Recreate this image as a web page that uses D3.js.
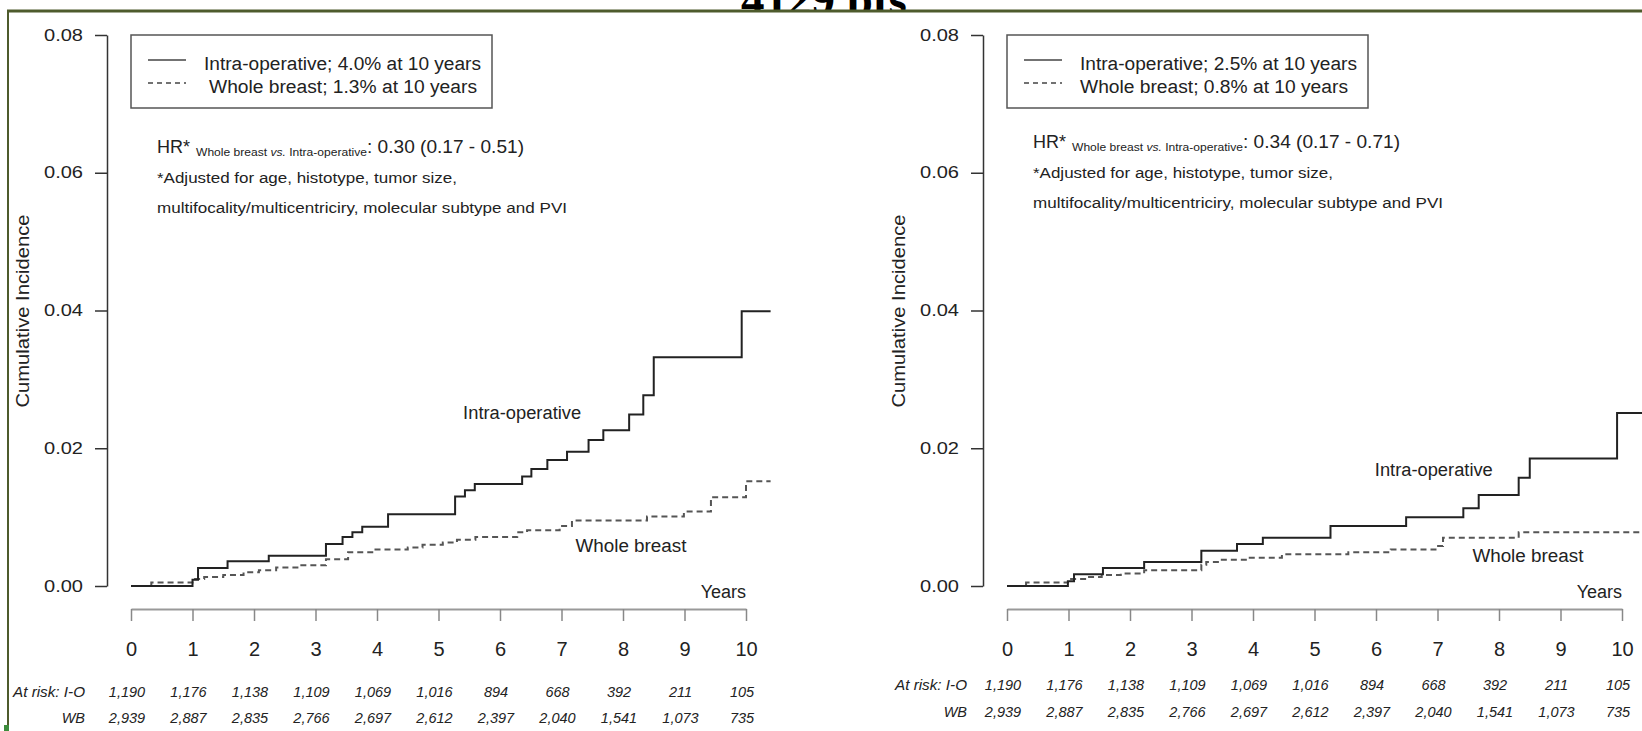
<!DOCTYPE html>
<html>
<head>
<meta charset="utf-8">
<script src="https://cdn.jsdelivr.net/npm/d3@7"></script>
<style>
  body { margin: 0; background: #fff; }
  svg { display: block; }
  text { font-family: 'Liberation Sans Narrow', 'Liberation Sans', Arial, sans-serif; fill: #222; }
</style>
</head>
<body>
<script>
// valeurs
const years = [0, 1, 2, 3, 4, 5, 6, 7, 8, 9, 10]
const yTicks = [0, 0.02, 0.04, 0.06, 0.08]
const atRiskIO = [1190, 1176, 1138, 1109, 1069, 1016, 894, 668, 392, 211, 105]
const atRiskWB = [2939, 2887, 2835, 2766, 2697, 2612, 2397, 2040, 1541, 1073, 735]

// panneau gauche
const ioTimesL = [0, 1.0, 1.09, 1.57, 2.24, 3.17, 3.44, 3.6, 3.76, 4.18, 5.27, 5.43, 5.59, 6.36, 6.51, 6.77, 7.09, 7.44, 7.68, 8.1, 8.33, 8.5, 9.93]
const ioValuesL = [0, 0.0009, 0.0026, 0.0036, 0.0044, 0.0061, 0.0071, 0.0078, 0.0086, 0.0104, 0.0130, 0.0139, 0.0148, 0.0159, 0.0170, 0.0183, 0.0195, 0.0212, 0.0226, 0.0249, 0.0277, 0.0332, 0.0399]
const wbTimesL = [0, 0.33, 1.0, 1.19, 1.5, 1.83, 2.08, 2.36, 2.73, 3.17, 3.53, 3.94, 4.5, 4.74, 5.07, 5.3, 5.6, 6.28, 6.44, 6.97, 7.17, 8.39, 8.99, 9.43, 10.0]
const wbValuesL = [0, 0.0005, 0.0010, 0.0013, 0.0016, 0.0020, 0.0023, 0.0027, 0.0030, 0.0039, 0.0049, 0.0053, 0.0056, 0.0060, 0.0063, 0.0067, 0.0071, 0.0078, 0.0081, 0.0087, 0.0095, 0.0101, 0.0108, 0.0129, 0.0152]
const legendL = ["Intra-operative; 4.0% at 10 years", "Whole breast; 1.3% at 10 years"]
const hrL = ": 0.30 (0.17 - 0.51)"

// panneau droit
const ioTimesR = [0, 0.99, 1.09, 1.56, 2.23, 3.16, 3.74, 4.16, 5.26, 6.49, 7.42, 7.67, 8.32, 8.5, 9.92]
const ioValuesR = [0, 0.0007, 0.0017, 0.0026, 0.0035, 0.0051, 0.0061, 0.0070, 0.0087, 0.0100, 0.0113, 0.0132, 0.0157, 0.0185, 0.0251]
const wbTimesR = [0, 0.31, 0.99, 1.31, 1.54, 1.85, 2.23, 3.16, 3.24, 3.47, 3.93, 4.47, 5.55, 6.24, 7.01, 7.09, 8.32]
const wbValuesR = [0, 0.0005, 0.0010, 0.0013, 0.0016, 0.0018, 0.0023, 0.0031, 0.0035, 0.0038, 0.0041, 0.0046, 0.0049, 0.0053, 0.0058, 0.0070, 0.0078]
const legendR = ["Intra-operative; 2.5% at 10 years", "Whole breast; 0.8% at 10 years"]
const hrR = " : 0.34 (0.17 - 0.71)"

const adjustedLines = ["*Adjusted for age, histotype, tumor size,", "multifocality/multicentriciry, molecular subtype and PVI"]

const width = 1642
const height = 731

const svg = d3.select("body").append("svg")
  .attr("width", width)
  .attr("height", height)

svg.append("rect").attr("width", width).attr("height", height).attr("fill", "#fff")

// titre coupé en haut de l'image
svg.append("clipPath").attr("id", "topclip")
  .append("rect").attr("x", 0).attr("y", 0).attr("width", width).attr("height", 10.5)
svg.append("text")
  .attr("clip-path", "url(#topclip)")
  .attr("x", 824).attr("y", 15)
  .attr("text-anchor", "middle")
  .style("font-family", "'Liberation Serif', 'Times New Roman', serif")
  .style("font-weight", "bold")
  .style("font-size", "47px")
  .style("fill", "#000")
  .text("4129 pts")

// cadre vert
svg.append("line").attr("x1", 7).attr("x2", width).attr("y1", 11).attr("y2", 11)
  .attr("stroke", "#4e5b2c").attr("stroke-width", 3)
svg.append("line").attr("x1", 8).attr("x2", 8).attr("y1", 10).attr("y2", height)
  .attr("stroke", "#4e5b2c").attr("stroke-width", 2)
svg.append("rect").attr("x", 4).attr("y", 725).attr("width", 5).attr("height", 6).attr("fill", "#3c8c3c")

function drawPanel(p) {
  const ox = p.ox
  const x = d3.scaleLinear().domain([0, 10]).range([ox + 24, ox + 639])
  const y = d3.scaleLinear().domain([0, 0.08]).range([586, 35])
  const g = svg.append("g")

  // axe y
  const ay = g.append("g")
    .attr("transform", `translate(${ox},0)`)
    .call(d3.axisLeft(y).tickValues(yTicks).tickFormat(d3.format(".2f")).tickSize(12).tickSizeOuter(0).tickPadding(12))
  ay.select(".domain").attr("stroke", "#333").attr("stroke-width", 1.5)
  ay.selectAll(".tick line").attr("stroke", "#333").attr("stroke-width", 1.5)
  ay.selectAll(".tick text")
    .style("font-family", "'Liberation Sans', Arial, sans-serif")
    .style("font-size", "16px")
    .attr("textLength", 39).attr("lengthAdjust", "spacingAndGlyphs")

  // axe x
  const ax = g.append("g")
    .attr("transform", "translate(0,609)")
    .call(d3.axisBottom(x).tickValues(years).tickSize(12).tickSizeOuter(0).tickPadding(21))
  ax.select(".domain").attr("stroke", "#999").attr("stroke-width", 2)
  ax.selectAll(".tick line").attr("stroke", "#888").attr("stroke-width", 1.5)
  ax.selectAll(".tick text")
    .style("font-family", "'Liberation Sans', Arial, sans-serif")
    .style("font-size", "20px")

  g.append("text")
    .attr("x", ox + 639).attr("y", 598)
    .attr("text-anchor", "end")
    .style("font-size", "18px")
    .text("Years")

  // titre de l'axe y
  g.append("text")
    .attr("transform", `translate(${ox - 78},311) rotate(-90)`)
    .attr("text-anchor", "middle")
    .style("font-family", "'Liberation Sans', Arial, sans-serif")
    .style("font-size", "18px")
    .attr("textLength", 193).attr("lengthAdjust", "spacingAndGlyphs")
    .text("Cumulative Incidence")

  // courbes en escalier
  const line = d3.line()
    .x(d => x(d[0]))
    .y(d => y(d[1]))
    .curve(d3.curveStepAfter)

  const ioPts = p.ioTimes.map((t, i) => [t, p.ioValues[i]])
  ioPts.push([p.endYear, p.ioValues[p.ioValues.length - 1]])
  const wbPts = p.wbTimes.map((t, i) => [t, p.wbValues[i]])
  wbPts.push([p.endYear, p.wbValues[p.wbValues.length - 1]])

  g.append("path").datum(wbPts)
    .attr("d", line)
    .attr("fill", "none")
    .attr("stroke", "#555")
    .attr("stroke-width", 2)
    .attr("stroke-dasharray", "6,4")
  g.append("path").datum(ioPts)
    .attr("d", line)
    .attr("fill", "none")
    .attr("stroke", "#222")
    .attr("stroke-width", 2)

  g.append("text")
    .attr("x", x(p.ioLabel[0])).attr("y", y(p.ioLabel[1]))
    .attr("text-anchor", "middle")
    .style("font-size", "18px")
    .attr("textLength", 118).attr("lengthAdjust", "spacingAndGlyphs")
    .text("Intra-operative")
  g.append("text")
    .attr("x", x(p.wbLabel[0])).attr("y", y(p.wbLabel[1]))
    .attr("text-anchor", "middle")
    .style("font-size", "18px")
    .attr("textLength", 111).attr("lengthAdjust", "spacingAndGlyphs")
    .text("Whole breast")

  // légende
  g.append("rect")
    .attr("x", ox + 24).attr("y", 35)
    .attr("width", 361).attr("height", 73)
    .attr("fill", "none").attr("stroke", "#555").attr("stroke-width", 1.5)
  g.append("line").attr("x1", ox + 41).attr("x2", ox + 79).attr("y1", 60).attr("y2", 60)
    .attr("stroke", "#444").attr("stroke-width", 1.5)
  g.append("line").attr("x1", ox + 41).attr("x2", ox + 79).attr("y1", 83).attr("y2", 83)
    .attr("stroke", "#444").attr("stroke-width", 1.5).attr("stroke-dasharray", "5,4")
  const legendWidths = [277, 268]
  p.legend.forEach((t, i) => {
    g.append("text")
      .attr("x", ox + 97 + (i == 1 ? p.legendShift : 0)).attr("y", 70 + i * 23)
      .style("font-size", "18px")
      .attr("textLength", legendWidths[i]).attr("lengthAdjust", "spacingAndGlyphs")
      .text(t)
  })

  // HR
  const hy = 153 + p.textDy
  g.append("text")
    .attr("x", ox + 50).attr("y", hy)
    .style("font-size", "18px")
    .attr("textLength", 33).attr("lengthAdjust", "spacingAndGlyphs")
    .text("HR*")
  const sub = g.append("text")
    .attr("x", ox + 89).attr("y", hy + 3)
    .style("font-size", "10px")
    .attr("textLength", 171).attr("lengthAdjust", "spacingAndGlyphs")
  sub.append("tspan").text("Whole breast ")
  sub.append("tspan").style("font-style", "italic").text("vs.")
  sub.append("tspan").text(" Intra-operative")
  g.append("text")
    .attr("x", ox + 260).attr("y", hy)
    .style("font-size", "18px")
    .attr("textLength", 157).attr("lengthAdjust", "spacingAndGlyphs")
    .text(p.hr)

  const adjWidths = [300, 410]
  adjustedLines.forEach((t, i) => {
    g.append("text")
      .attr("x", ox + 50).attr("y", 183 + p.textDy + i * 30)
      .style("font-size", "15.5px")
      .attr("textLength", adjWidths[i]).attr("lengthAdjust", "spacingAndGlyphs")
      .text(t)
  })

  // effectifs à risque
  const fmt = d3.format(",")
  const risk = g.append("g")
    .style("font-family", "'Liberation Sans', Arial, sans-serif")
    .style("font-style", "italic")
    .style("font-size", "14.5px")
  risk.append("text")
    .attr("x", ox + p.riskDx).attr("y", p.riskY[0])
    .attr("text-anchor", "end")
    .attr("textLength", 72).attr("lengthAdjust", "spacingAndGlyphs")
    .text("At risk: I-O")
  risk.append("text")
    .attr("x", ox + p.riskDx).attr("y", p.riskY[1])
    .attr("text-anchor", "end")
    .text("WB")
  risk.selectAll(".io").data(atRiskIO).enter().append("text")
    .attr("x", (d, i) => x(years[i]) - 4).attr("y", p.riskY[0])
    .attr("text-anchor", "middle")
    .text(d => fmt(d))
  risk.selectAll(".wb").data(atRiskWB).enter().append("text")
    .attr("x", (d, i) => x(years[i]) - 4).attr("y", p.riskY[1])
    .attr("text-anchor", "middle")
    .text(d => fmt(d))
}

drawPanel({
  ox: 107, endYear: 10.4,
  ioTimes: ioTimesL, ioValues: ioValuesL, wbTimes: wbTimesL, wbValues: wbValuesL,
  legend: legendL, legendShift: 5, hr: hrL, textDy: 0,
  ioLabel: [6.36, 0.0243], wbLabel: [8.13, 0.0049],
  riskDx: -22, riskY: [697, 723]
})
drawPanel({
  ox: 983, endYear: 10.6,
  ioTimes: ioTimesR, ioValues: ioValuesR, wbTimes: wbTimesR, wbValues: wbValuesR,
  legend: legendR, legendShift: 0, hr: hrR, textDy: -5,
  ioLabel: [6.94, 0.0159], wbLabel: [8.47, 0.0035],
  riskDx: -16, riskY: [690, 717]
})
</script>
</body>
</html>
